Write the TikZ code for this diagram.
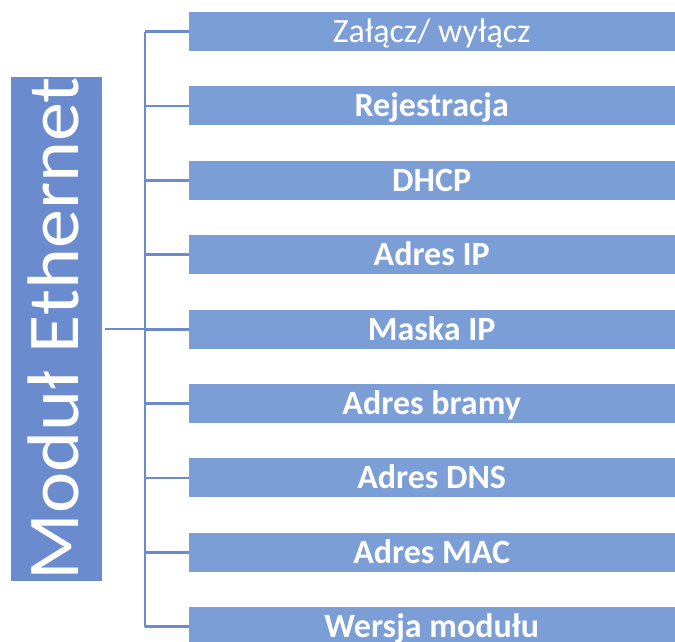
\documentclass[tikz,border=0pt]{standalone}
\usepackage{fontspec}
\setmainfont{Carlito}
\newfontfamily\widecarlito[FakeStretch=1.07]{Carlito}
\definecolor{mainblue}{HTML}{6A8CCE}
\definecolor{itemblue}{HTML}{7C9ED7}
\begin{document}
\begin{tikzpicture}[x=1pt,y=-1pt,
  itembox/.style={fill=itemblue, draw=none, minimum width=486pt, minimum height=39pt, inner sep=0pt, text height=21.9pt, text depth=0pt, text=white, font=\fontsize{34}{36}\selectfont\bfseries, anchor=west},
  mainbox/.style={fill=mainblue, draw=none, minimum width=91pt, minimum height=504pt, inner sep=0pt, text=white},
  conn/.style={draw=mainblue, line width=2.8pt}]
\useasboundingbox (0,0) rectangle (675,641);
\node[mainbox] (main) at (56.5,329) {};
\node[rotate=90, anchor=base, text=white, font=\widecarlito\fontsize{73}{74}\selectfont, inner sep=0pt] (mtext) at (78,328.5) {Moduł Ethernet};
\coordinate (bus) at (145,0);
\foreach \i/\t [count=\n] in {1/{\mdseries Załącz/ wyłącz},2/Rejestracja,3/DHCP,4/Adres IP,5/Maska IP,6/Adres bramy,7/Adres DNS,8/Adres MAC,9/Wersja modułu}{
  \node[itembox] (b\n) at (188.5, 31.5+74.4*\n-74.4) {\t};
  \draw[conn] (b\n.west) -- (bus |- b\n.west);
}
\draw[conn] (bus |- b1.west) -- (bus |- b9.west);
\draw[conn] (main.east) ++(2.5,0) -- (bus |- main.east);
\end{tikzpicture}
\end{document}
